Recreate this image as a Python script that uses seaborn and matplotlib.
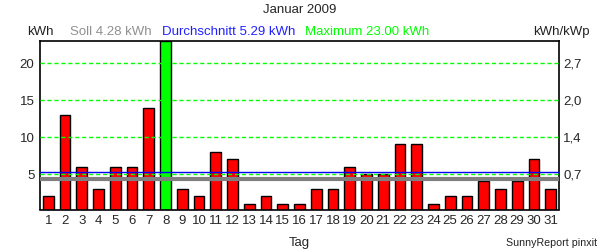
import matplotlib
matplotlib.use("Agg")
import matplotlib.pyplot as plt
import seaborn as sns
import pandas as pd

days = list(range(1, 32))
kwh = [2, 13, 6, 3, 6, 6, 14, 23, 3, 2, 8, 7, 1, 2, 1, 1,
       3, 3, 6, 5, 5, 9, 9, 1, 2, 2, 4, 3, 4, 7, 3]
soll = 4.28
durchschnitt = 5.29
maximum = 23.00
left_ticks = [5, 10, 15, 20]
right_labels = ["0,7", "1,4", "2,0", "2,7"]

sns.set_style("white")
plt.rcParams["font.family"] = ["Liberation Sans", "DejaVu Sans"]

df = pd.DataFrame({"Tag": days, "kWh": kwh})
colors = ["#00ff00" if v == max(kwh) else "#ff0000" for v in kwh]

fs = 9.5
fig = plt.figure(figsize=(6, 2.5), dpi=100)
ax = fig.add_axes([40/600, 1 - 209.5/250, 519/600, 168.5/250])

ax.bar(df["Tag"], df["kWh"], width=0.64, color=colors, edgecolor="black",
       linewidth=1.0, zorder=2)
ax.set_xlim(0.5, 31.5)
ax.set_ylim(0.2, 23.0)

for t in left_ticks:
    ax.axhline(t, color="#00ff00", linestyle=(0, (3, 2)), linewidth=1.0, zorder=3)
ax.axhline(soll, color="#808080", linewidth=3.0, zorder=3)
ax.axhline(durchschnitt, color="#0000ff", linewidth=1.0, zorder=4)

ax.set_xticks(days)
ax.set_xticklabels([str(d) for d in days], fontsize=fs)
ax.set_yticks(left_ticks)
ax.set_yticklabels([str(t) for t in left_ticks], fontsize=fs)
ax.tick_params(axis="both", length=0, pad=4)
for s in ax.spines.values():
    s.set_color("black")
    s.set_linewidth(1.2)
ax.set_xlabel("Tag", fontsize=fs, labelpad=7)
ax.set_ylabel("")

ax2 = ax.twinx()
ax2.set_ylim(ax.get_ylim())
ax2.set_yticks(left_ticks)
ax2.set_yticklabels(right_labels, fontsize=fs)
ax2.tick_params(axis="y", length=0, pad=3)
for s in ax2.spines.values():
    s.set_visible(False)

fig.text(0.5, 1 - 10/250, "Januar 2009", ha="center", va="center", fontsize=fs)
y_head = 1 - 32/250
fig.text(27/600, y_head, "kWh", ha="left", va="center", fontsize=fs, color="#222222")
fig.text(70/600, y_head, "Soll %.2f kWh" % soll, ha="left", va="center", fontsize=fs, color="#909090")
fig.text(162/600, y_head, "Durchschnitt %.2f kWh" % durchschnitt, ha="left", va="center", fontsize=fs, color="#2020ff")
fig.text(305/600, y_head, "Maximum %.2f kWh" % maximum, ha="left", va="center", fontsize=fs, color="#00ff00")
fig.text(590/600, y_head, "kWh/kWp", ha="right", va="center", fontsize=fs, color="#222222")
fig.text(597/600, 1 - 243/250, "SunnyReport pinxit", ha="right", va="center", fontsize=7.7, color="#222222")

fig.savefig("out.png", dpi=100, facecolor="white")
